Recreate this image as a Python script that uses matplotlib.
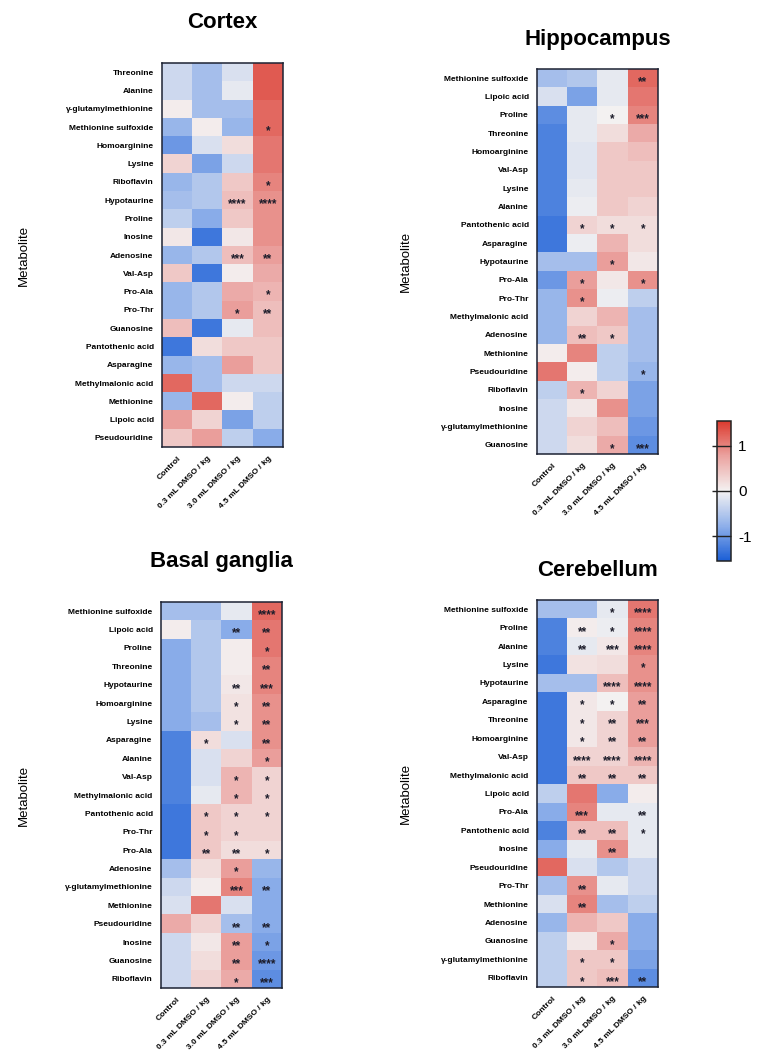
import numpy as np
import matplotlib
matplotlib.use("Agg")
import matplotlib.pyplot as plt
from matplotlib.colors import LinearSegmentedColormap

plt.rcParams['font.family'] = ['Liberation Sans', 'DejaVu Sans']

groups = ["Control", "0.3 mL DMSO / kg", "3.0 mL DMSO / kg", "4.5 mL DMSO / kg"]

# ---- Cortex ----
cortex_rows = ["Threonine", "Alanine", "γ-glutamylmethionine", "Methionine sulfoxide",
               "Homoarginine", "Lysine", "Riboflavin", "Hypotaurine", "Proline", "Inosine",
               "Adenosine", "Val-Asp", "Pro-Ala", "Pro-Thr", "Guanosine", "Pantothenic acid",
               "Asparagine", "Methylmalonic acid", "Methionine", "Lipoic acid", "Pseudouridine"]
cortex_vals = [
    [-0.3, -0.6, -0.2, 1.3],
    [-0.3, -0.6, -0.1, 1.3],
    [0.05, -0.6, -0.6, 1.2],
    [-0.7, 0.05, -0.7, 1.2],
    [-1.0, -0.2, 0.2, 1.1],
    [0.3, -0.9, -0.3, 1.1],
    [-0.7, -0.5, 0.4, 1.0],
    [-0.6, -0.5, 0.5, 0.9],
    [-0.4, -0.8, 0.4, 0.9],
    [0.1, -1.3, 0.1, 0.9],
    [-0.7, -0.5, 0.5, 0.8],
    [0.4, -1.3, 0.05, 0.7],
    [-0.7, -0.5, 0.7, 0.6],
    [-0.7, -0.5, 0.8, 0.5],
    [0.5, -1.3, -0.1, 0.5],
    [-1.3, 0.2, 0.4, 0.4],
    [-0.7, -0.6, 0.8, 0.4],
    [1.2, -0.6, -0.3, -0.3],
    [-0.7, 1.2, 0.05, -0.4],
    [0.8, 0.3, -0.9, -0.4],
    [0.4, 0.8, -0.4, -0.8],
]
cortex_sig = [
    ["", "", "", ""], ["", "", "", ""], ["", "", "", ""], ["", "", "", "*"],
    ["", "", "", ""], ["", "", "", ""], ["", "", "", "*"], ["", "", "****", "****"],
    ["", "", "", ""], ["", "", "", ""], ["", "", "***", "**"], ["", "", "", ""],
    ["", "", "", "*"], ["", "", "*", "**"], ["", "", "", ""], ["", "", "", ""],
    ["", "", "", ""], ["", "", "", ""], ["", "", "", ""], ["", "", "", ""], ["", "", "", ""],
]

# ---- Hippocampus ----
hippo_rows = ["Methionine sulfoxide", "Lipoic acid", "Proline", "Threonine", "Homoarginine",
              "Val-Asp", "Lysine", "Alanine", "Pantothenic acid", "Asparagine", "Hypotaurine",
              "Pro-Ala", "Pro-Thr", "Methylmalonic acid", "Adenosine", "Methionine",
              "Pseudouridine", "Riboflavin", "Inosine", "γ-glutamylmethionine", "Guanosine"]
hippo_vals = [
    [-0.6, -0.5, -0.1, 1.2],
    [-0.2, -0.9, -0.1, 1.1],
    [-1.1, -0.1, 0.0, 1.0],
    [-1.2, -0.1, 0.2, 0.7],
    [-1.2, -0.15, 0.4, 0.5],
    [-1.2, -0.15, 0.4, 0.4],
    [-1.2, -0.1, 0.4, 0.4],
    [-1.2, -0.05, 0.4, 0.3],
    [-1.3, 0.3, 0.2, 0.2],
    [-1.3, -0.05, 0.6, 0.2],
    [-0.6, -0.6, 0.8, 0.1],
    [-1.0, 0.8, 0.1, 0.9],
    [-0.7, 0.9, -0.05, -0.4],
    [-0.7, 0.3, 0.6, -0.6],
    [-0.7, 0.5, 0.4, -0.6],
    [0.05, 1.0, -0.4, -0.6],
    [1.1, 0.05, -0.4, -0.7],
    [-0.4, 0.6, 0.3, -0.9],
    [-0.3, 0.1, 0.9, -0.9],
    [-0.3, 0.3, 0.5, -1.0],
    [-0.3, 0.2, 0.7, -1.1],
]
hippo_sig = [
    ["", "", "", "**"], ["", "", "", ""], ["", "", "*", "***"], ["", "", "", ""],
    ["", "", "", ""], ["", "", "", ""], ["", "", "", ""], ["", "", "", ""],
    ["", "*", "*", "*"], ["", "", "", ""], ["", "", "*", ""], ["", "*", "", "*"],
    ["", "*", "", ""], ["", "", "", ""], ["", "**", "*", ""], ["", "", "", ""],
    ["", "", "", "*"], ["", "*", "", ""], ["", "", "", ""], ["", "", "", ""],
    ["", "", "*", "***"],
]

# ---- Basal ganglia ----
basal_rows = ["Methionine sulfoxide", "Lipoic acid", "Proline", "Threonine", "Hypotaurine",
              "Homoarginine", "Lysine", "Asparagine", "Alanine", "Val-Asp", "Methylmalonic acid",
              "Pantothenic acid", "Pro-Thr", "Pro-Ala", "Adenosine", "γ-glutamylmethionine",
              "Methionine", "Pseudouridine", "Inosine", "Guanosine", "Riboflavin"]
basal_vals = [
    [-0.6, -0.6, -0.1, 1.2],
    [0.05, -0.5, -0.8, 1.1],
    [-0.8, -0.5, 0.05, 1.1],
    [-0.8, -0.5, 0.05, 1.0],
    [-0.8, -0.5, 0.1, 1.0],
    [-0.8, -0.5, 0.15, 0.9],
    [-0.8, -0.6, 0.15, 0.9],
    [-1.2, 0.2, -0.2, 0.9],
    [-1.2, -0.2, 0.3, 0.8],
    [-1.2, -0.2, 0.6, 0.3],
    [-1.2, -0.1, 0.6, 0.3],
    [-1.3, 0.4, 0.3, 0.3],
    [-1.3, 0.4, 0.3, 0.3],
    [-1.3, 0.4, 0.2, 0.2],
    [-0.6, 0.2, 0.8, -0.7],
    [-0.3, 0.05, 1.0, -0.8],
    [-0.2, 1.1, -0.2, -0.8],
    [0.7, 0.3, -0.6, -0.8],
    [-0.3, 0.1, 0.8, -0.9],
    [-0.3, 0.2, 0.8, -1.0],
    [-0.3, 0.3, 0.7, -1.1],
]
basal_sig = [
    ["", "", "", "****"], ["", "", "**", "**"], ["", "", "", "*"], ["", "", "", "**"],
    ["", "", "**", "***"], ["", "", "*", "**"], ["", "", "*", "**"], ["", "*", "", "**"],
    ["", "", "", "*"], ["", "", "*", "*"], ["", "", "*", "*"], ["", "*", "*", "*"],
    ["", "*", "*", ""], ["", "**", "**", "*"], ["", "", "*", ""], ["", "", "***", "**"],
    ["", "", "", ""], ["", "", "**", "**"], ["", "", "**", "*"], ["", "", "**", "****"],
    ["", "", "*", "***"],
]

# ---- Cerebellum ----
cereb_rows = ["Methionine sulfoxide", "Proline", "Alanine", "Lysine", "Hypotaurine", "Asparagine",
              "Threonine", "Homoarginine", "Val-Asp", "Methylmalonic acid", "Lipoic acid",
              "Pro-Ala", "Pantothenic acid", "Inosine", "Pseudouridine", "Pro-Thr", "Methionine",
              "Adenosine", "Guanosine", "γ-glutamylmethionine", "Riboflavin"]
cereb_vals = [
    [-0.6, -0.6, -0.1, 1.1],
    [-1.2, 0.05, -0.05, 1.0],
    [-1.2, -0.1, 0.1, 1.0],
    [-1.3, 0.15, 0.2, 0.9],
    [-0.6, -0.6, 0.5, 0.9],
    [-1.3, 0.1, 0.0, 0.8],
    [-1.3, 0.1, 0.3, 0.8],
    [-1.3, 0.1, 0.3, 0.8],
    [-1.3, 0.3, 0.3, 0.6],
    [-1.3, 0.4, 0.4, 0.4],
    [-0.4, 1.1, -0.8, 0.05],
    [-0.8, 1.0, -0.1, -0.1],
    [-1.2, 0.5, 0.5, -0.1],
    [-0.8, -0.1, 0.9, -0.1],
    [1.2, -0.2, -0.5, -0.3],
    [-0.6, 0.9, -0.1, -0.3],
    [-0.2, 1.0, -0.6, -0.4],
    [-0.7, 0.6, 0.4, -0.8],
    [-0.4, 0.1, 0.7, -0.8],
    [-0.4, 0.4, 0.4, -0.9],
    [-0.4, 0.4, 0.5, -1.1],
]
cereb_sig = [
    ["", "", "*", "****"], ["", "**", "*", "****"], ["", "**", "***", "****"], ["", "", "", "*"],
    ["", "", "****", "****"], ["", "*", "*", "**"], ["", "*", "**", "***"], ["", "*", "**", "**"],
    ["", "****", "****", "****"], ["", "**", "**", "**"], ["", "", "", ""], ["", "***", "", "**"],
    ["", "**", "**", "*"], ["", "", "**", ""], ["", "", "", ""], ["", "**", "", ""],
    ["", "**", "", ""], ["", "", "", ""], ["", "", "*", ""], ["", "*", "*", ""],
    ["", "*", "***", "**"],
]

W, H = 758, 1063
cmap = LinearSegmentedColormap.from_list(
    "bwr_custom", ["#1a5ed6", "#8fb0ea", "#f4f2f2", "#eba3a0", "#dc3a2e"])
vmin, vmax = -1.55, 1.55

fig = plt.figure(figsize=(W / 100, H / 100), dpi=100)


def px_axes(left, top, right, bottom):
    return fig.add_axes([left / W, 1 - bottom / H, (right - left) / W, (bottom - top) / H])


def heatmap(box, title, title_y, rows, vals, sig, ylab_x):
    left, top, right, bottom = box
    ax = px_axes(left, top, right, bottom)
    im = ax.imshow(np.array(vals), cmap=cmap, vmin=vmin, vmax=vmax,
                   aspect='auto', interpolation='nearest')
    for i, row in enumerate(sig):
        for j, s in enumerate(row):
            if s:
                ax.text(j, i + 0.22, s, ha='center', va='center', fontsize=8.5,
                        fontweight='bold', color='#1c1c2a')
    ax.set_yticks(range(len(rows)))
    ax.set_yticklabels(rows, fontsize=6, fontweight='bold')
    ax.set_xticks(range(len(groups)))
    ax.set_xticklabels(groups, fontsize=6, fontweight='bold', rotation=45,
                       ha='right', rotation_mode='anchor')
    ax.tick_params(axis='both', length=0, pad=6)
    for sp in ax.spines.values():
        sp.set_linewidth(1.1)
        sp.set_color('#1c2233')
    fig.text((left + right) / 2 / W, 1 - title_y / H, title, ha='center', va='center',
             fontsize=16, fontweight='bold')
    fig.text(ylab_x / W, 1 - (top + bottom) / 2 / H, "Metabolite", rotation=90,
             ha='center', va='center', fontsize=9.5)
    return im


heatmap((162, 63, 283, 447), "Cortex", 22, cortex_rows, cortex_vals, cortex_sig, 24)
heatmap((537, 69, 658, 454), "Hippocampus", 40, hippo_rows, hippo_vals, hippo_sig, 406)
heatmap((161, 602, 282, 988), "Basal ganglia", 562, basal_rows, basal_vals, basal_sig, 24)
im = heatmap((537, 600, 658, 987), "Cerebellum", 570, cereb_rows, cereb_vals, cereb_sig, 406)

cax = px_axes(717, 421, 731, 561)
cb = fig.colorbar(im, cax=cax, ticks=[-1, 0, 1])
cb.ax.set_yticklabels(["-1", "0", "1"], fontsize=11)
cb.ax.tick_params(direction='in', length=14, width=1, color='#222222', pad=5)
cb.outline.set_linewidth(1.1)
cb.outline.set_edgecolor('#222222')

plt.savefig("out.png", dpi=100)
